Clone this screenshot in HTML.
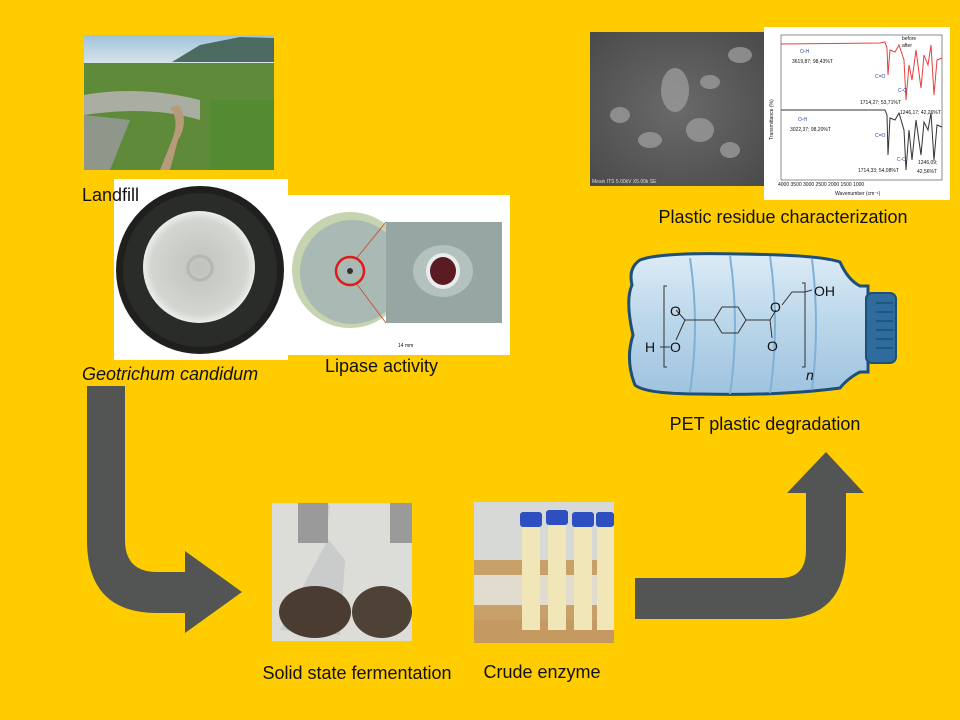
<!DOCTYPE html>
<html><head><meta charset="utf-8"><style>
html,body{margin:0;padding:0;background:#FFCC00;}
svg{display:block}
text{font-family:"Liberation Sans Narrow","Liberation Sans",sans-serif;fill:#111}
</style></head><body>
<svg width="960" height="720" viewBox="0 0 960 720" xmlns="http://www.w3.org/2000/svg">
<defs>
<linearGradient id="sky" x1="0" y1="0" x2="0" y2="1"><stop offset="0" stop-color="#9fc3dd"/><stop offset="1" stop-color="#d7e3e8"/></linearGradient>
<radialGradient id="fung" cx=".5" cy=".5" r=".5"><stop offset="0" stop-color="#bfc2bd"/><stop offset=".85" stop-color="#d4d6d2"/><stop offset="1" stop-color="#eceee9"/></radialGradient>
<linearGradient id="bott" x1="0" y1="0" x2="0" y2="1"><stop offset="0" stop-color="#dcebf6"/><stop offset=".5" stop-color="#bad6ea"/><stop offset="1" stop-color="#9fc3df"/></linearGradient>
<radialGradient id="sem" cx=".5" cy=".5" r=".7"><stop offset="0" stop-color="#6a6a6a"/><stop offset="1" stop-color="#4a4a4a"/></radialGradient>
</defs>
<rect width="960" height="720" fill="#FFCC00"/>

<!-- Landfill photo -->
<rect x="84" y="35" width="190" height="135" fill="#5e8a3a"/>
<rect x="84" y="35" width="190" height="28" fill="url(#sky)"/>
<path d="M172 62 L200 45 L240 37 L274 38 L274 62 Z" fill="#4d6a60"/>
<path d="M84 95 Q140 85 200 100 L200 120 Q150 105 84 115Z" fill="#a9ada2"/>
<path d="M84 115 L130 120 L110 170 L84 170Z" fill="#8f978a"/>
<path d="M178 105 Q190 120 178 140 L170 170 L160 170 L172 140 Q180 120 170 108Z" fill="#b79a7a"/>
<rect x="210" y="100" width="64" height="70" fill="#4f8a2f" opacity=".7"/>

<!-- Fungus -->
<rect x="114" y="179" width="174" height="181" fill="#fff"/>
<circle cx="200" cy="270" r="84" fill="#1f201e"/>
<circle cx="200" cy="270" r="77" fill="#2a2c29"/>
<circle cx="199" cy="267" r="56" fill="url(#fung)"/>
<circle cx="200" cy="268" r="12" fill="none" stroke="#b5b8b2" stroke-width="3"/>

<!-- Lipase -->
<rect x="288" y="195" width="222" height="160" fill="#fff"/>
<circle cx="350" cy="270" r="58" fill="#c6d4b0"/>
<circle cx="352" cy="272" r="52" fill="#a9b9b4"/>
<rect x="386" y="222" width="116" height="101" fill="#95a6a3"/>
<ellipse cx="443" cy="271" rx="30" ry="26" fill="#b3c1bf"/>
<ellipse cx="443" cy="271" rx="17" ry="18" fill="#e8ecea"/>
<ellipse cx="443" cy="271" rx="13" ry="14" fill="#5a1b22"/>
<line x1="356" y1="259" x2="386" y2="222" stroke="#c64a2a" stroke-width="0.8"/>
<line x1="356" y1="283" x2="386" y2="323" stroke="#c64a2a" stroke-width="0.8"/>
<circle cx="350" cy="271" r="14" fill="none" stroke="#e01a1a" stroke-width="2.5"/>
<circle cx="350" cy="271" r="3" fill="#333"/>
<text x="398" y="347" font-size="5">14 mm</text>

<text x="82" y="201" font-size="18">Landfill</text>
<text x="82" y="380" font-size="18" font-style="italic">Geotrichum candidum</text>
<text x="325" y="372" font-size="18">Lipase activity</text>

<!-- Left arrow -->
<path d="M87 386 L125 386 L125 540 Q125 572 157 572 L185 572 L185 551 L242 592 L185 633 L185 613 L157 613 Q87 613 87 540 Z" fill="#535555"/>

<!-- Flask photo -->
<rect x="272" y="503" width="140" height="138" fill="#dcdcd8"/>
<path d="M300 505 L330 505 L325 545 L280 630 L340 635 L345 560Z" fill="#c9ccca"/>
<rect x="298" y="503" width="30" height="40" fill="#9a9a9a"/>
<rect x="390" y="503" width="22" height="40" fill="#9a9a9a"/>
<ellipse cx="315" cy="612" rx="36" ry="26" fill="#4a3c30"/>
<ellipse cx="382" cy="612" rx="30" ry="26" fill="#4e4236"/>
<!-- Crude enzyme -->
<rect x="474" y="502" width="140" height="141" fill="#d7d9d6"/>
<rect x="474" y="560" width="140" height="83" fill="#c8a06a"/>
<rect x="474" y="575" width="140" height="30" fill="#e1dccd"/>
<rect x="474" y="620" width="140" height="23" fill="#c49a62"/>
<g fill="#f1e6b8"><rect x="522" y="520" width="18" height="110"/><rect x="548" y="520" width="18" height="110"/><rect x="574" y="520" width="18" height="110"/><rect x="597" y="520" width="17" height="110"/></g>
<g fill="#2d4fc0"><rect x="520" y="512" width="22" height="15" rx="3"/><rect x="546" y="510" width="22" height="15" rx="3"/><rect x="572" y="512" width="22" height="15" rx="3"/><rect x="596" y="512" width="18" height="15" rx="3"/></g>

<text x="357" y="679" font-size="18" text-anchor="middle">Solid state fermentation</text>
<text x="542" y="678" font-size="18" text-anchor="middle">Crude enzyme</text>

<!-- Right arrow -->
<path d="M635 578 L780 578 Q806 578 806 550 L806 493 L787 493 L826 452 L864 493 L846 493 L846 550 Q846 619 780 619 L635 619 Z" fill="#535555"/>

<!-- SEM -->
<rect x="590" y="32" width="174" height="154" fill="url(#sem)"/>
<g fill="#9a9a9a" opacity=".8">
<ellipse cx="675" cy="90" rx="14" ry="22"/><ellipse cx="710" cy="82" rx="10" ry="7"/><ellipse cx="700" cy="130" rx="14" ry="12"/>
<ellipse cx="620" cy="115" rx="10" ry="8"/><ellipse cx="650" cy="140" rx="12" ry="8"/><ellipse cx="740" cy="55" rx="12" ry="8"/><ellipse cx="730" cy="150" rx="10" ry="8"/></g>
<text x="592" y="183" font-size="5" style="fill:#ddd">Mesin ITS 5.00kV X5.00k SE</text>

<!-- FTIR -->
<rect x="764" y="27" width="186" height="173" fill="#fff"/>
<rect x="781" y="35" width="161" height="145" fill="none" stroke="#444" stroke-width=".6"/>
<path d="M781 44 L880 43 L885 42 L887 48 L888 75 L890 50 L895 52 L899 45 L904 60 L906 100 L909 65 L912 80 L916 50 L921 88 L924 55 L928 65 L931 45 L934 95 L937 60 L942 58" fill="none" stroke="#e74040" stroke-width="1"/>
<path d="M781 110 L880 110 L885 110 L887 115 L888 155 L890 118 L895 120 L899 113 L904 130 L906 170 L909 130 L912 160 L916 120 L921 155 L924 122 L928 130 L931 113 L934 160 L937 125 L942 127" fill="none" stroke="#333" stroke-width="1"/>
<g font-size="5" style="font-family:'Liberation Sans',sans-serif">
<text x="800" y="53" style="fill:#34a">O-H</text>
<text x="792" y="63">3619,87; 98,43%T</text>
<text x="798" y="121" style="fill:#34a">O-H</text>
<text x="790" y="131">3022,37; 98,20%T</text>
<text x="875" y="78" style="fill:#34a">C=O</text>
<text x="898" y="92" style="fill:#34a">C-O</text>
<text x="860" y="104">1714,27; 53,71%T</text>
<text x="900" y="114">1246,17; 42,26%T</text>
<text x="875" y="137" style="fill:#34a">C=O</text>
<text x="897" y="161" style="fill:#34a">C-O</text>
<text x="858" y="172">1714,33; 54,08%T</text>
<text x="918" y="164">1246,09;</text>
<text x="917" y="173">42,56%T</text>
<text x="902" y="40">before</text><text x="902" y="47">after</text>
<text x="778" y="186">4000   3500   3000   2500   2000   1500   1000</text>
<text x="835" y="195">Wavenumber (cm⁻¹)</text>
<text x="773" y="140" transform="rotate(-90 773 140)">Transmittance (%)</text>
</g>
<text x="783" y="223" font-size="18" text-anchor="middle">Plastic residue characterization</text>

<!-- Bottle -->
<path d="M640 260 Q660 252 740 254 Q820 255 840 262 Q848 280 860 286 L868 286 L868 372 L860 372 Q848 378 840 388 Q780 396 700 394 Q645 394 635 385 Q625 360 633 335 Q625 300 632 285 Q628 268 640 260 Z" fill="url(#bott)" stroke="#1d4f78" stroke-width="3"/>
<g stroke="#7fb0d6" stroke-width="2" fill="none"><path d="M690 258 Q700 325 690 392"/><path d="M730 256 Q740 325 730 394"/><path d="M770 256 Q780 325 770 393"/><path d="M812 259 Q820 325 812 390"/></g>
<rect x="866" y="293" width="30" height="70" rx="6" fill="#2f6b9c" stroke="#1d4f78" stroke-width="2"/>
<g stroke="#1d4f78" stroke-width="1.5"><line x1="876" y1="303" x2="893" y2="303"/><line x1="876" y1="312" x2="893" y2="312"/><line x1="876" y1="321" x2="893" y2="321"/><line x1="876" y1="330" x2="893" y2="330"/><line x1="876" y1="339" x2="893" y2="339"/><line x1="876" y1="348" x2="893" y2="348"/></g>
<g stroke="#333" stroke-width="1" fill="none">
<path d="M667 286 L664 286 L664 367 L667 367"/><path d="M802 283 L805 283 L805 367 L802 367"/>
<polygon points="722,307 738,307 746,320 738,333 722,333 714,320"/>
<line x1="714" y1="320" x2="685" y2="320"/><line x1="746" y1="320" x2="770" y2="320"/>
<line x1="685" y1="320" x2="676" y2="310"/><line x1="685" y1="320" x2="676" y2="340"/>
<line x1="770" y1="320" x2="776" y2="310"/><line x1="770" y1="320" x2="772" y2="338"/>
<path d="M782 305 L792 292 L805 292 L812 290"/>
<line x1="660" y1="347" x2="670" y2="347"/>
</g>
<g font-size="14" style="font-family:'Liberation Sans',sans-serif">
<text x="670" y="316">O</text><text x="645" y="352">H</text><text x="670" y="352">O</text>
<text x="767" y="351">O</text><text x="770" y="312">O</text><text x="814" y="296">OH</text>
<text x="806" y="380" font-style="italic">n</text>
</g>
<text x="765" y="430" font-size="18" text-anchor="middle">PET plastic degradation</text>
</svg>
</body></html>
